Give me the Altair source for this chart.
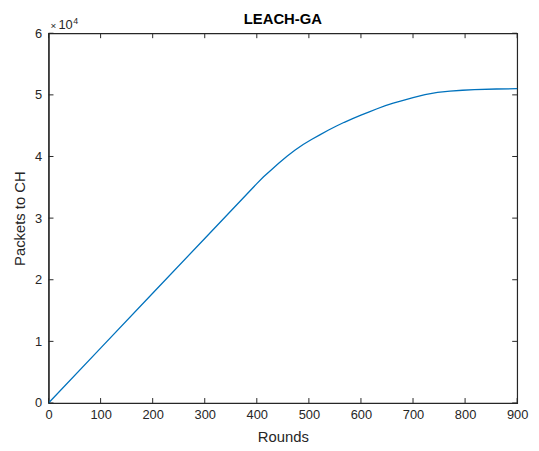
import altair as alt
import pandas as pd

rounds = [0, 100, 200, 300, 400, 413, 426, 442, 458, 473, 489, 505, 521, 537, 553, 568, 584,
          600, 616, 631, 647, 662, 676, 700, 723, 747, 771, 795, 818, 860, 900]
packets_e4 = [0, 0.89, 1.78, 2.67, 3.56, 3.67, 3.77, 3.89, 4.005, 4.10, 4.195, 4.275, 4.35, 4.425, 4.495, 4.555, 4.615,
              4.67, 4.725, 4.775, 4.825, 4.865, 4.90, 4.955, 5.005, 5.04, 5.06, 5.075, 5.085, 5.095, 5.10]
x_ticks = [0, 100, 200, 300, 400, 500, 600, 700, 800, 900]
y_ticks = [0, 10000, 20000, 30000, 40000, 50000, 60000]
title_text = "LEACH-GA"

W, H = 474, 374
FONT = "Liberation Sans"

df = pd.DataFrame({"Rounds": rounds, "Packets": [v * 1e4 for v in packets_e4]})
xs = alt.Scale(domain=[0, 900], nice=False)
ys = alt.Scale(domain=[0, 60000], nice=False)

line = alt.Chart(df).mark_line(color="#0072BD", strokeWidth=1.3).encode(
    x=alt.X("Rounds:Q", scale=xs,
            axis=alt.Axis(values=x_ticks, title="Rounds", grid=False, tickSize=0,
                          labelFlush=False, labelPadding=6, titlePadding=8)),
    y=alt.Y("Packets:Q", scale=ys,
            axis=alt.Axis(values=y_ticks, title="Packets to CH", grid=False, tickSize=0,
                          labelFlush=False, labelExpr="datum.value / 10000",
                          labelPadding=7, titlePadding=7)),
)

xt = pd.DataFrame({"Rounds": x_ticks})
yt = pd.DataFrame({"Packets": y_ticks})
tb = alt.Chart(xt).mark_rule(color="#262626", strokeWidth=1).encode(
    x=alt.X("Rounds:Q", scale=xs), y=alt.value(H), y2=alt.value(H - 5))
tt = alt.Chart(xt).mark_rule(color="#262626", strokeWidth=1).encode(
    x=alt.X("Rounds:Q", scale=xs), y=alt.value(0), y2=alt.value(5))
tl = alt.Chart(yt).mark_rule(color="#262626", strokeWidth=1).encode(
    y=alt.Y("Packets:Q", scale=ys), x=alt.value(0), x2=alt.value(5))
tr = alt.Chart(yt).mark_rule(color="#262626", strokeWidth=1).encode(
    y=alt.Y("Packets:Q", scale=ys), x=alt.value(W), x2=alt.value(W - 5))

def txt(s, x, y, size, weight="normal", align="left", color="#262626"):
    return alt.Chart(pd.DataFrame({"t": [s]})).mark_text(
        align=align, baseline="alphabetic", font=FONT, fontSize=size,
        fontWeight=weight, color=color
    ).encode(text="t:N", x=alt.value(x), y=alt.value(y))

exp_x = txt("\u00d7", 2, -4, 10)
exp_10 = txt("10", 10, -4, 13)
exp_4 = txt("4", 25, -9, 9)
title = txt(title_text, W / 2, -9, 15, weight="bold", align="center", color="black")

chart = alt.layer(line, tb, tt, tl, tr, exp_x, exp_10, exp_4, title).properties(
    width=W, height=H,
    background="white",
    autosize=alt.AutoSizeParams(type="none"),
    padding={"left": 41, "top": 23, "right": 14, "bottom": 44},
).configure_view(stroke="#262626", strokeWidth=1.2).configure_axis(
    domainColor="#262626", domainWidth=1.2, labelFont=FONT, titleFont=FONT,
    labelFontSize=13, titleFontSize=15, labelColor="#262626", titleColor="#262626",
    titleFontWeight="normal",
)

chart.save("out.html", embed_options={"renderer": "svg", "actions": False})
